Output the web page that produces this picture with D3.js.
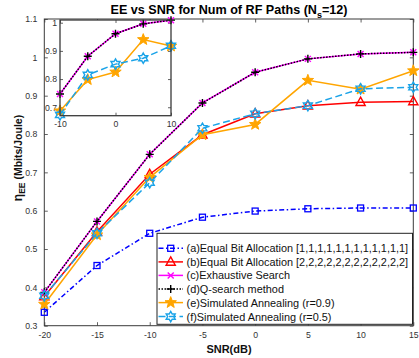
<!DOCTYPE html>
<html><head><meta charset="utf-8">
<script src="https://cdn.jsdelivr.net/npm/d3@7/dist/d3.min.js"></script>
<style>
html,body{margin:0;padding:0;background:#fff;}
text{font-family:"Liberation Sans",Arial,Helvetica,sans-serif;}
</style></head>
<body><svg id="c" width="419" height="358"></svg>
<script>
// ---------- data ----------
const snr = [-20, -15, -10, -5, 0, 5, 10, 15];
const eqBit1 = [0.335, 0.457, 0.541, 0.583, 0.599, 0.605, 0.607, 0.607];
const eqBit2 = [0.376, 0.545, 0.695, 0.798, 0.853, 0.874, 0.883, 0.885];
const exhaustive = [0.387, 0.572, 0.747, 0.881, 0.961, 0.996, 1.009, 1.013];
const qsearch = [0.387, 0.572, 0.747, 0.881, 0.961, 0.996, 1.009, 1.013];
const sa09 = [0.356, 0.537, 0.687, 0.798, 0.825, 0.940, 0.917, 0.965];
const sa05 = [0.378, 0.541, 0.673, 0.815, 0.853, 0.874, 0.918, 0.922];
const xTicks = [-20, -15, -10, -5, 0, 5, 10, 15];
const yTicks = [0.3, 0.4, 0.5, 0.6, 0.7, 0.8, 0.9, 1.0, 1.1];
const insetXTicks = [-10, 0, 10];
const insetYTicks = [0.7, 0.8, 0.9, 1.0];
const labels = [
  "(a)Equal Bit Allocation [1,1,1,1,1,1,1,1,1,1,1,1]",
  "(b)Equal Bit Allocation [2,2,2,2,2,2,2,2,2,2,2,2]",
  "(c)Exhaustive Search",
  "(d)Q-search method",
  "(e)Simulated Annealing (r=0.9)",
  "(f)Simulated Annealing (r=0.5)"
];

// ---------- styles ----------
const series = [
  {vals: eqBit1, color: "#0000ff", dash: "5,2.5,1.5,2.5", marker: "square", inset: false},
  {vals: eqBit2, color: "#ff0000", dash: null, marker: "triangle", inset: false},
  {vals: exhaustive, color: "#ff00ff", dash: null, marker: "x", inset: true},
  {vals: qsearch, color: "#000000", dash: "1.5,1.5", marker: "plus", inset: true},
  {vals: sa09, color: "#ffa500", dash: null, marker: "pentagram", inset: true},
  {vals: sa05, color: "#1aa3e8", dash: "7,3.5", marker: "hexagram", inset: true}
];

function starPath(n, ro, ri, rot) {
  const pts = [];
  for (let i = 0; i < 2 * n; i++) {
    const r = i % 2 === 0 ? ro : ri;
    const a = rot + i * Math.PI / n;
    pts.push([r * Math.sin(a), -r * Math.cos(a)]);
  }
  return "M" + pts.map(p => p[0].toFixed(2) + "," + p[1].toFixed(2)).join("L") + "Z";
}
function drawMarker(g, type, color) {
  switch (type) {
    case "square":
      g.append("rect").attr("x", -3).attr("y", -3).attr("width", 6).attr("height", 6)
        .attr("fill", "none").attr("stroke", color).attr("stroke-width", 1.3); break;
    case "triangle":
      g.append("path").attr("d", "M0,-5L4.6,3.3L-4.6,3.3Z")
        .attr("fill", "none").attr("stroke", color).attr("stroke-width", 1.4); break;
    case "x":
      g.append("path").attr("d", "M-3,-3L3,3M-3,3L3,-3")
        .attr("fill", "none").attr("stroke", color).attr("stroke-width", 1.4); break;
    case "plus":
      g.append("path").attr("d", "M-4,0L4,0M0,-4L0,4")
        .attr("fill", "none").attr("stroke", color).attr("stroke-width", 1.4); break;
    case "pentagram":
      g.append("path").attr("d", starPath(5, 6, 2.5, 0))
        .attr("fill", color).attr("stroke", color).attr("stroke-width", 1); break;
    case "hexagram":
      g.append("path").attr("d", starPath(6, 5.2, 3.0, 0))
        .attr("fill", "none").attr("stroke", color).attr("stroke-width", 1.4); break;
  }
}

const svg = d3.select("#c");
const axisColor = "#3a3a3a";

// ---------- main axes ----------
const L = 44.3, R = 413.3, T = 19, B = 325.7;
const x = d3.scaleLinear().domain([-20, 15]).range([L, R]);
const y = d3.scaleLinear().domain([0.3, 1.1]).range([B, T]);
const fmt = d => String(+d.toFixed(1));

function styleAxis(g, fs) {
  g.select(".domain").remove();
  g.selectAll("line").attr("stroke", axisColor).attr("stroke-width", 0.8);
  g.selectAll("text").attr("fill", "#333").attr("font-size", fs);
}
svg.append("g").attr("transform", `translate(0,${B})`)
  .call(d3.axisBottom(x).tickValues(xTicks).tickFormat(fmt).tickSizeInner(-3.5).tickSizeOuter(0).tickPadding(6))
  .call(g => styleAxis(g, "8.7px"));
svg.append("g").attr("transform", `translate(0,${T})`)
  .call(d3.axisTop(x).tickValues(xTicks).tickFormat("").tickSizeInner(-3.5).tickSizeOuter(0))
  .call(g => styleAxis(g, "8.7px"));
svg.append("g").attr("transform", `translate(${L},0)`)
  .call(d3.axisLeft(y).tickValues(yTicks).tickFormat(fmt).tickSizeInner(-3.5).tickSizeOuter(0).tickPadding(7))
  .call(g => styleAxis(g, "8.7px"));
svg.append("g").attr("transform", `translate(${R},0)`)
  .call(d3.axisRight(y).tickValues(yTicks).tickFormat("").tickSizeInner(-3.5).tickSizeOuter(0))
  .call(g => styleAxis(g, "8.7px"));
svg.append("rect").attr("x", L).attr("y", T).attr("width", R - L).attr("height", B - T)
  .attr("fill", "none").attr("stroke", axisColor).attr("stroke-width", 1);

// ---------- main series ----------
function drawSeries(parent, xs, ys, filterFn) {
  series.forEach(s => {
    const pts = snr.map((v, i) => [v, s.vals[i]]).filter(filterFn);
    const line = d3.line().x(d => xs(d[0])).y(d => ys(d[1]));
    parent.append("path").datum(pts).attr("d", line).attr("fill", "none")
      .attr("stroke", s.color).attr("stroke-width", 1.5)
      .attr("stroke-dasharray", s.dash);
    pts.forEach(p => {
      const g = parent.append("g").attr("transform", `translate(${xs(p[0])},${ys(p[1])})`);
      drawMarker(g, s.marker, s.color);
    });
  });
}
drawSeries(svg.append("g"), x, y, () => true);

// ---------- inset ----------
const iL = 60, iR = 171, iT = 20, iB = 115.7;
const ix = d3.scaleLinear().domain([-10, 10]).range([iL, iR]);
const iy = d3.scaleLinear().domain([0.67, 1.0096]).range([iB, iT]);
svg.append("rect").attr("x", iL).attr("y", iT).attr("width", iR - iL).attr("height", iB - iT)
  .attr("fill", "#fff");
svg.append("g").attr("transform", `translate(0,${iB})`)
  .call(d3.axisBottom(ix).tickValues(insetXTicks).tickFormat(fmt).tickSizeInner(-3).tickSizeOuter(0).tickPadding(5))
  .call(g => styleAxis(g, "8.7px"));
svg.append("g").attr("transform", `translate(0,${iT})`)
  .call(d3.axisTop(ix).tickValues(insetXTicks).tickFormat("").tickSizeInner(-3).tickSizeOuter(0))
  .call(g => styleAxis(g, "8.7px"));
svg.append("g").attr("transform", `translate(${iL},0)`)
  .call(d3.axisLeft(iy).tickValues(insetYTicks).tickFormat(fmt).tickSizeInner(-3).tickSizeOuter(0).tickPadding(3))
  .call(g => styleAxis(g, "8.7px"));
svg.append("g").attr("transform", `translate(${iR},0)`)
  .call(d3.axisRight(iy).tickValues(insetYTicks).tickFormat("").tickSizeInner(-3).tickSizeOuter(0))
  .call(g => styleAxis(g, "8.7px"));
const insetSeriesG = svg.append("g");
series.forEach(s => {
  if (!s.inset) return;
  const pts = snr.map((v, i) => [v, s.vals[i]]).filter(d => d[0] >= -10 && d[0] <= 10);
  const line = d3.line().x(d => ix(d[0])).y(d => iy(d[1]));
  insetSeriesG.append("path").datum(pts).attr("d", line).attr("fill", "none")
    .attr("stroke", s.color).attr("stroke-width", 1.5).attr("stroke-dasharray", s.dash);
  pts.forEach(p => {
    const g = insetSeriesG.append("g").attr("transform", `translate(${ix(p[0])},${iy(p[1])})`);
    drawMarker(g, s.marker, s.color);
  });
});
svg.append("rect").attr("x", iL).attr("y", iT).attr("width", iR - iL).attr("height", iB - iT)
  .attr("fill", "none").attr("stroke", axisColor).attr("stroke-width", 1.3);

// ---------- legend ----------
const lgX = 157, lgY = 233.3, lgW = 255.5, lgH = 91;
const lg = svg.append("g");
lg.append("rect").attr("x", lgX).attr("y", lgY).attr("width", lgW).attr("height", lgH)
  .attr("fill", "#fff").attr("stroke", "#222").attr("stroke-width", 1);
const rowY = [248.3, 261.9, 275.4, 289.0, 302.6, 316.6];
series.forEach((s, i) => {
  const yy = rowY[i];
  lg.append("line").attr("x1", 158.5).attr("x2", 183).attr("y1", yy).attr("y2", yy)
    .attr("stroke", s.color).attr("stroke-width", 1.5).attr("stroke-dasharray", s.dash);
  const g = lg.append("g").attr("transform", `translate(170.7,${yy})`);
  drawMarker(g, s.marker, s.color);
  lg.append("text").attr("x", 186.5).attr("y", yy + 3.9).attr("font-size", "10.9px")
    .attr("fill", "#111").text(labels[i]);
});

// ---------- titles ----------
const title = svg.append("text").attr("x", 229).attr("y", 13.5).attr("text-anchor", "middle")
  .attr("font-size", "12.6px").attr("font-weight", "bold").attr("fill", "#000");
title.append("tspan").text("EE vs SNR for Num of RF Paths (N");
title.append("tspan").attr("dy", 4).attr("font-size", "9px").text("s");
title.append("tspan").attr("dy", -4).text("=12)");

svg.append("text").attr("x", 229).attr("y", 353).attr("text-anchor", "middle")
  .attr("font-size", "11px").attr("font-weight", "bold").attr("fill", "#111").text("SNR(dB)");

const yl = svg.append("text").attr("transform", "translate(22,158) rotate(-90)")
  .attr("text-anchor", "middle").attr("font-size", "10.5px").attr("font-weight", "bold").attr("fill", "#111");
yl.append("tspan").attr("font-size", "12px").text("η");
yl.append("tspan").attr("dy", 3).attr("font-size", "8.5px").text("EE");
yl.append("tspan").attr("dy", -3).text(" (Mbits/Joule)");
</script></body></html>
